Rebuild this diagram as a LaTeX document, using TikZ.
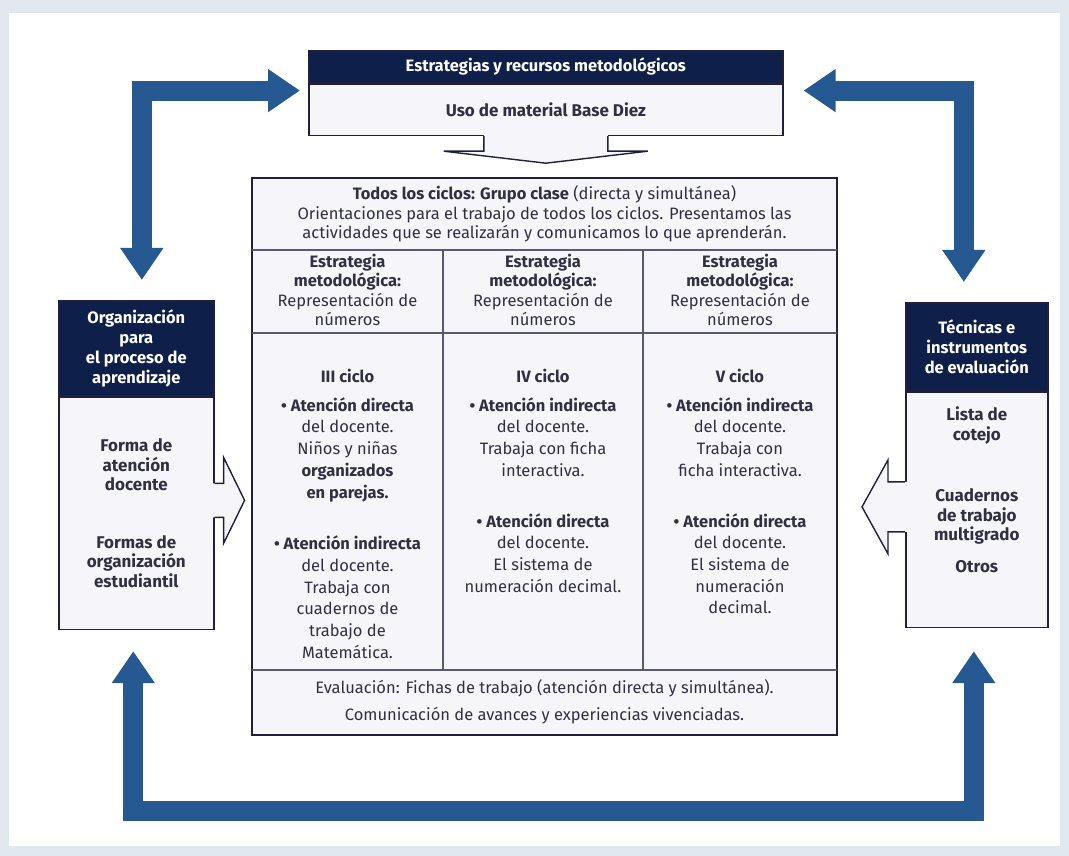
\documentclass[tikz,border=0pt]{standalone}
\usepackage{fontspec}
\setmainfont{Fira Sans}
\definecolor{pagegray}{RGB}{226,232,240}
\definecolor{headnavy}{RGB}{14,32,74}
\definecolor{lineink}{RGB}{32,32,62}
\definecolor{arrowblue}{RGB}{38,88,145}
\definecolor{cellfill}{RGB}{246,246,250}
\definecolor{inkgray}{RGB}{48,48,64}
\usetikzlibrary{arrows.meta,calc}

\begin{document}
\begin{tikzpicture}[
      x=1pt, y=1pt,
      headbox/.style={draw=lineink, line width=1.6pt, fill=headnavy, text=white,
                      align=center, inner sep=0pt,
                      font=\fontsize{16.5}{20}\selectfont\bfseries},
      bodybox/.style={draw=lineink, line width=1.6pt, fill=cellfill, text=inkgray,
                      align=center, inner sep=0pt,
                      font=\fontsize{17}{19.5}\selectfont\bfseries},
      bluearr/.style={line width=20pt, arrowblue,
                      {Triangle[length=32pt,width=41pt]}-{Triangle[length=32pt,width=41pt]}},
      hollow/.style={draw=lineink, line width=1.4pt, line join=miter},
      celltext/.style={align=center, text=inkgray, inner sep=0pt,
                       font=\fontsize{16.5}{19.5}\selectfont},
      gridline/.style={draw=lineink!75, line width=1.4pt},
      tabframe/.style={draw=lineink, line width=2.2pt, fill=cellfill}
    ]
    \useasboundingbox (0,0) rectangle (1069,856);
    \fill[pagegray] (0,0) rectangle (1069,856);
    \fill[white] (9,10) rectangle (1060,843);

    % TOP: strategy box
    \node[headbox, minimum width=474pt, minimum height=32pt, anchor=north west]
      (tophead) at (308,806) {Estrategias y recursos metodológicos};
    \node[bodybox, minimum width=474pt, minimum height=51pt, anchor=north]
      (topbody) at (tophead.south) {Uso de material Base Diez};

    % LEFT: organisation box
    \node[headbox, minimum width=155pt, minimum height=95pt, anchor=north west]
      (orghead) at (58,556) {Organización\\para\\el proceso de\\aprendizaje};
    \node[bodybox, minimum width=155pt, minimum height=232pt, anchor=north]
      (orgbody) at (orghead.south)
      {Forma de\\atención\\docente\\[38pt]Formas de\\organización\\estudiantil};

    % RIGHT: evaluation box
    \node[headbox, minimum width=142pt, minimum height=88pt, anchor=north west]
      (evalhead) at (905,554) {Técnicas e\\instrumentos\\de evaluación};
    \node[bodybox, minimum width=142pt, minimum height=235pt, anchor=north]
      (evalbody) at (evalhead.south) {};
    \node[bodybox, draw=none, fill=none] (evallist) at ([yshift=20pt]evalbody.center)
      {Lista de\\cotejo\\[42pt]Cuadernos\\de trabajo\\multigrado\\[12pt]Otros};

    % CENTRE: table of the cycles
    \draw[tabframe] (252,678) rectangle (837,121);
    \draw[gridline] (252,606) -- (837,606);
    \draw[gridline] (252,523) -- (837,523);
    \draw[gridline] (252,186) -- (837,186);
    \draw[gridline] (443,606) -- (443,186);
    \draw[gridline] (643,606) -- (643,186);

    \node[celltext] (allrow) at (544.5,642)
      {\textbf{Todos los ciclos: Grupo clase} (directa y simultánea)\\
       Orientaciones para el trabajo de todos los ciclos. Presentamos las\\
       actividades que se realizarán y comunicamos lo que aprenderán.};

    \node[celltext] (strat3) at (347.5,566)
      {\textbf{Estrategia}\\\textbf{metodológica:}\\Representación de\\números};
    \node[celltext] (strat4) at (543,566)
      {\textbf{Estrategia}\\\textbf{metodológica:}\\Representación de\\números};
    \node[celltext] (strat5) at (740,566)
      {\textbf{Estrategia}\\\textbf{metodológica:}\\Representación de\\números};

    \node[celltext, font=\fontsize{16.5}{21.7}\selectfont, anchor=north] (cycle3) at (347.5,487)
      {\textbf{III ciclo}\\[7pt]\textbf{• Atención directa}\\del docente.\\Niños y niñas\\
       \textbf{organizados}\\\textbf{en parejas.}\\[30pt]\textbf{• Atención indirecta}\\
       del docente.\\Trabaja con\\cuadernos de\\trabajo de\\Matemática.};
    \node[celltext, font=\fontsize{16.5}{21.7}\selectfont, anchor=north] (cycle4) at (543,487)
      {\textbf{IV ciclo}\\[7pt]\textbf{• Atención indirecta}\\del docente.\\Trabaja con ficha\\
       interactiva.\\[29pt]\textbf{• Atención directa}\\del docente.\\El sistema de\\
       numeración decimal.};
    \node[celltext, font=\fontsize{16.5}{21.7}\selectfont, anchor=north] (cycle5) at (740,487)
      {\textbf{V ciclo}\\[7pt]\textbf{• Atención indirecta}\\del docente.\\Trabaja con\\
       ficha interactiva.\\[29pt]\textbf{• Atención directa}\\del docente.\\El sistema de\\
       numeración\\decimal.};

    \node[celltext] (evalrow) at (544.5,154.5)
      {Evaluación: Fichas de trabajo (atención directa y simultánea).\\[7.5pt]
       Comunicación de avances y experiencias vivenciadas.};

    % hollow arrows into the table
    \coordinate (ta) at (topbody.south);
    \fill[cellfill] ([yshift=2pt]ta) ++(-62,0) -- ++(0,-17) -- ++(-40,0) -- ++(102,-12)
      -- ++(102,12) -- ++(-40,0) -- ++(0,17) -- cycle;
    \draw[hollow] (ta) ++(-62,0) -- ++(0,-15) -- ++(-40,0) -- ++(102,-12)
      -- ++(102,12) -- ++(-40,0) -- ++(0,15);

    \coordinate (la) at ([yshift=13pt]orgbody.east);
    \fill[cellfill] ([xshift=-2pt]la) ++(0,17) -- ++(11,0) -- ++(0,26) -- ++(21,-43)
      -- ++(-21,-43) -- ++(0,26) -- ++(-11,0) -- cycle;
    \draw[hollow] (la) ++(0,17) -- ++(9,0) -- ++(0,26) -- ++(21,-43)
      -- ++(-21,-43) -- ++(0,26) -- ++(-9,0);

    \coordinate (ra) at ([yshift=3pt]evalbody.west);
    \fill[cellfill] ([xshift=2pt]ra) ++(0,25) -- ++(-19,0) -- ++(0,22) -- ++(-26,-47)
      -- ++(26,-47) -- ++(0,22) -- ++(19,0) -- cycle;
    \draw[hollow] (ra) ++(0,25) -- ++(-17,0) -- ++(0,22) -- ++(-26,-47)
      -- ++(26,-47) -- ++(0,22) -- ++(17,0);

    % blue loop arrows
    \draw[bluearr] ([xshift=5.5pt,yshift=20pt]orghead.north)
      |- ([xshift=-8pt,yshift=-7pt]tophead.south west);
    \draw[bluearr] ([xshift=-13pt,yshift=20pt]evalhead.north)
      |- ([xshift=20pt,yshift=-7pt]tophead.south east);
    \draw[bluearr] ([xshift=-3pt,yshift=-21pt]orgbody.south) -- ++(0,-160)
      -| ([xshift=-3pt,yshift=-23pt]evalbody.south);
  \end{tikzpicture}
\end{document}
